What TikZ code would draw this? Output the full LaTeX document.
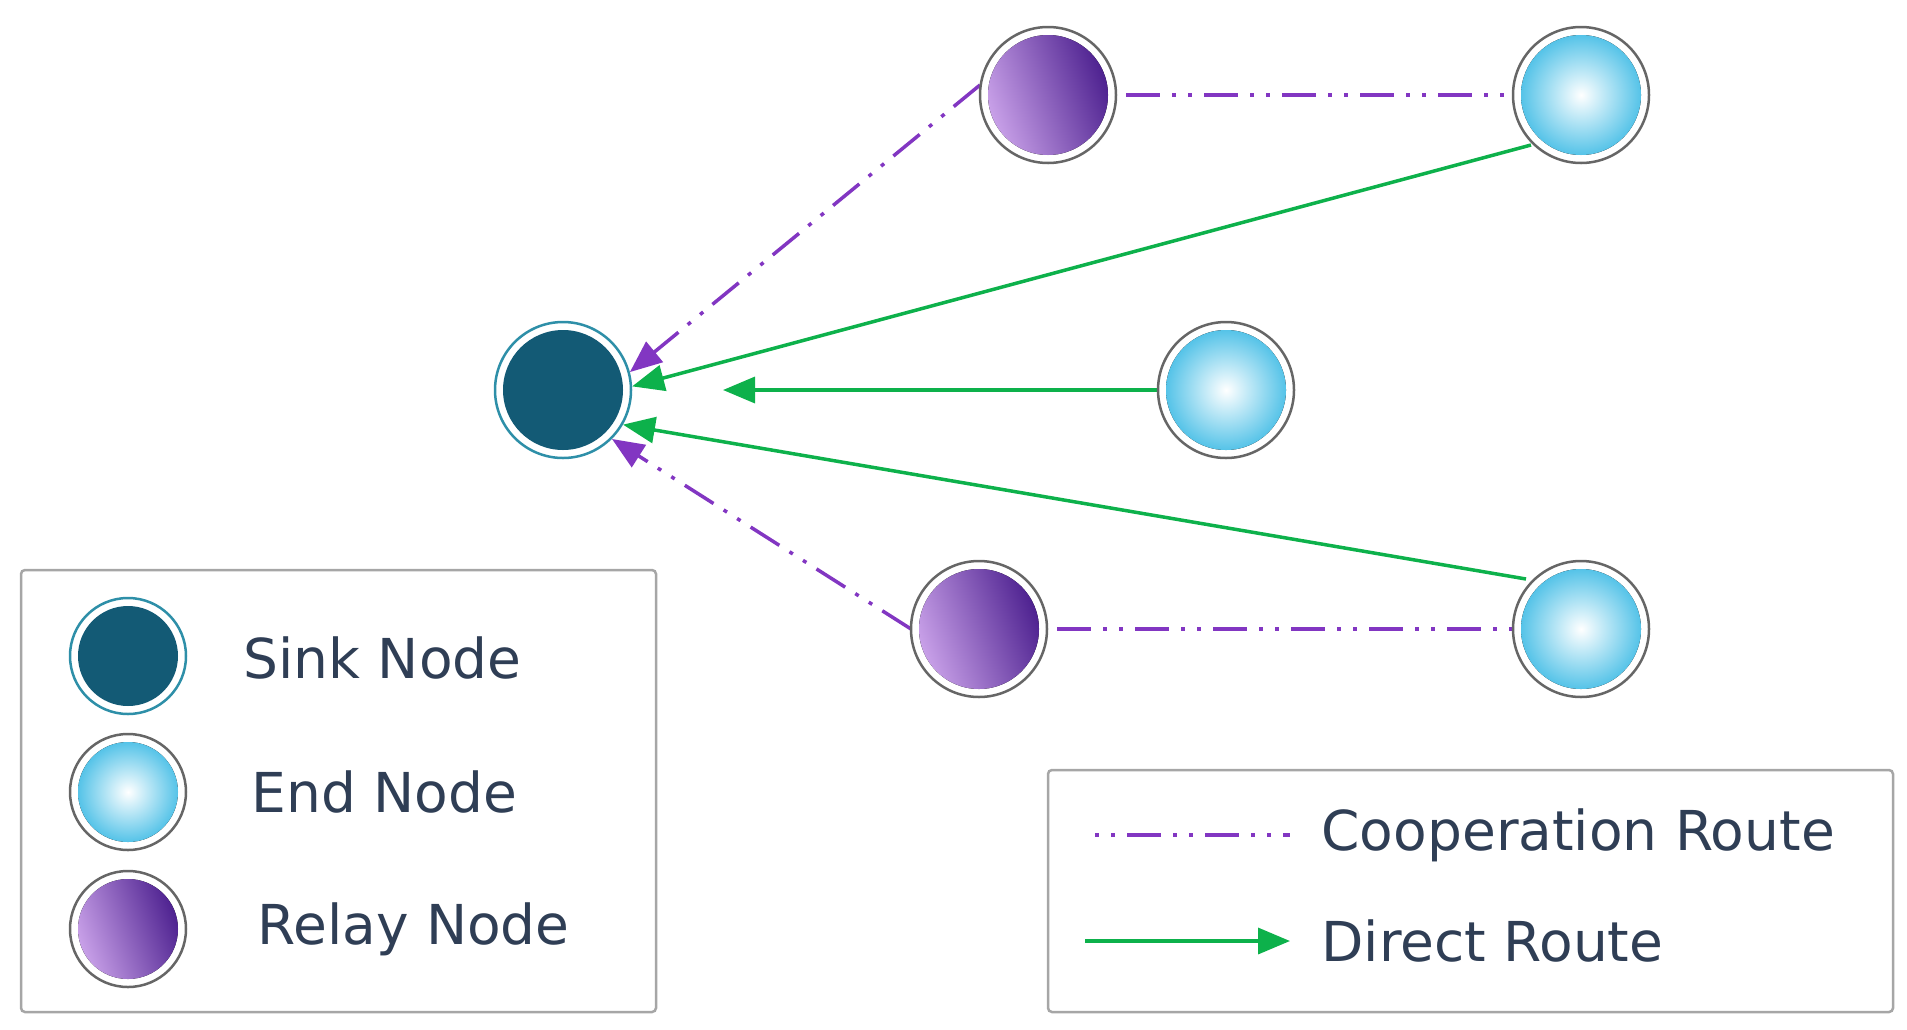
\documentclass[tikz,border=0pt]{standalone}
\usepackage{fontspec}
\setmainfont{DejaVu Sans}
\usetikzlibrary{arrows.meta}
\definecolor{sink}{HTML}{135A75}
\definecolor{sinkring}{HTML}{2E8FA8}
\definecolor{endb}{HTML}{55C3E8}
\definecolor{rl}{HTML}{C8A0E8}
\definecolor{rd}{HTML}{4E2290}
\definecolor{grn}{HTML}{0DB14B}
\definecolor{pur}{HTML}{8236C2}
\definecolor{txt}{HTML}{2F3E55}
\tikzset{
 ring/.style={circle,draw=gray!80!black,line width=2.5pt,fill=white,inner sep=0pt},
 sinkn/.style={circle,draw=sinkring,line width=2.5pt,fill=white,inner sep=0pt},
 endfill/.style={circle,inner color=white,outer color=endb},
 relayfill/.style={circle,left color=rl,right color=rd,shading angle=110},
 direct/.style={grn,line width=3.5pt,-{Triangle[length=32pt,width=26pt]}},
 coop/.style={pur,line width=3.5pt,dash pattern=on 34pt off 12pt on 4pt off 12pt on 4pt off 12pt},
 coopa/.style={coop,-{Triangle[length=32pt,width=26pt]}},
 lab/.style={anchor=west,text=txt,font=\fontsize{55}{60}\selectfont},
 box/.style={draw=gray!70,line width=2.5pt,rounded corners=4pt,fill=white}
}
\newcommand{\myendnode}[3]{\node[ring,minimum size=#3*2pt] (#1) at #2 {};\fill[endfill] #2 circle ({#3-8});}
\newcommand{\myrelaynode}[3]{\node[ring,minimum size=#3*2pt] (#1) at #2 {};\fill[relayfill] #2 circle ({#3-8});}
\newcommand{\mysinknode}[3]{\node[sinkn,minimum size=#3*2pt] (#1) at #2 {};\fill[sink] #2 circle ({#3-8});}
\begin{document}
\begin{tikzpicture}[x=1pt,y=-1pt]
\useasboundingbox (0,0) rectangle (1907,1029);
\coordinate (mid) at (723,390);
\mysinknode{S}{(563,390)}{68}
\draw[coop] (1048,95) -- (1581,95);
\draw[coop] (979,629) -- (1581,629);
\draw[coopa] (1048,95) ++(-68,-10) -- (S.15);
\draw[coopa] (979,629) ++(-68,0) -- (S.-45);
\draw[direct] (1581,95) ++(-50,50) -- (S.3);
\draw[direct] (1226,390) -- (mid);
\draw[direct] (1581,629) ++(-55,-50) -- (S.-30);
\myrelaynode{R1}{(1048,95)}{68}
\myendnode{E1}{(1581,95)}{68}
\myendnode{E2}{(1226,390)}{68}
\myrelaynode{R2}{(979,629)}{68}
\myendnode{E3}{(1581,629)}{68}
\draw[box] (21,570) rectangle (656,1012);
\mysinknode{L1}{(128,656)}{58}
\myendnode{L2}{(128,792)}{58}
\myrelaynode{L3}{(128,929)}{58}
\node[lab] at (240,658) {Sink Node};
\node[lab] at (248,792) {End Node};
\node[lab] at (254,929) {Relay Node};
\draw[box] (1048,770) rectangle (1893,1012);
\coordinate (c1) at (1095,835); \coordinate (c2) at (1290,835);
\coordinate (d1) at (1085,941); \coordinate (d2) at (1290,941);
\draw[coop,dash pattern=on 4pt off 12pt on 4pt off 12pt on 34pt off 12pt] (c1) -- (c2);
\draw[direct] (d1) -- (d2);
\node[lab] at (1318,835) {Cooperation Route};
\node[lab] at (1318,941) {Direct Route};
\end{tikzpicture}
\end{document}
